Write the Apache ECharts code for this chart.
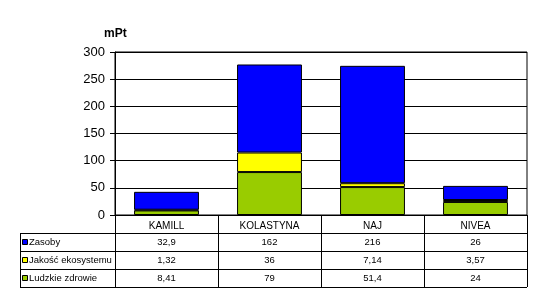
<!DOCTYPE html>
<html><head><meta charset="utf-8">
<script src="https://cdn.jsdelivr.net/npm/echarts@6/dist/echarts.min.js"></script>
<style>html,body{margin:0;padding:0;background:#fff}#c{width:550px;height:306px}</style>
</head><body><div id="c"></div>
<script>
const categories = ['KAMILL', 'KOLASTYNA', 'NAJ', 'NIVEA'];
const seriesNames = ['Zasoby', 'Jakość ekosystemu', 'Ludzkie zdrowie'];
const zasoby = [32.9, 162, 216, 26];
const jakosc = [1.32, 36, 7.14, 3.57];
const ludzkie = [8.41, 79, 51.4, 24];
const yTicks = [0, 50, 100, 150, 200, 250, 300];
const colors = ['#0000FF', '#FFFF00', '#99CC00'];
const tableValues = [zasoby, jakosc, ludzkie];

const FONT = 'Liberation Sans, Arial, sans-serif';
const chart = echarts.init(document.getElementById('c'), null, {renderer: 'canvas'});
const gridL = 115, gridR = 23, gridT = 52, gridB = 91;

function fmt(v) { return String(v).replace('.', ','); }

const barStyle = c => ({color: c, borderColor: '#000', borderWidth: 1});
chart.setOption({
  animation: false,
  backgroundColor: '#fff',
  textStyle: {fontFamily: FONT},
  grid: {left: gridL, right: gridR, top: gridT, bottom: gridB, show: true, borderColor: '#000', borderWidth: 1},
  title: {text: 'mPt', left: 99, top: 23, textStyle: {fontSize: 12, fontWeight: 'bold', color: '#000', fontFamily: FONT}},
  xAxis: {
    type: 'category', data: categories,
    axisLine: {lineStyle: {color: '#000'}},
    axisTick: {show: false},
    axisLabel: {color: '#000', fontSize: 10, margin: 6, fontFamily: FONT}
  },
  yAxis: {
    type: 'value', min: yTicks[0], max: yTicks[yTicks.length - 1], interval: 50,
    axisLine: {show: true, lineStyle: {color: '#000'}},
    axisTick: {show: true, length: 5, lineStyle: {color: '#000'}},
    axisLabel: {color: '#000', fontSize: 13, margin: 10, fontFamily: FONT},
    splitLine: {lineStyle: {color: '#000'}}
  },
  series: [
    {name: seriesNames[2], type: 'bar', stack: 's', data: ludzkie, itemStyle: barStyle(colors[2]), barCategoryGap: '37%'},
    {name: seriesNames[1], type: 'bar', stack: 's', data: jakosc, itemStyle: barStyle(colors[1])},
    {name: seriesNames[0], type: 'bar', stack: 's', data: zasoby, itemStyle: barStyle(colors[0])}
  ]
});

// Data table below the chart, aligned to the category axis
const zeroY = chart.convertToPixel({yAxisIndex: 0}, 0);
const c0 = chart.convertToPixel({xAxisIndex: 0}, categories[0]);
const c1 = chart.convertToPixel({xAxisIndex: 0}, categories[1]);
const bw = c1 - c0;
const headerH = 18, rowH = 18, tableLeft = 20;
const xs = categories.map((c, i) => chart.convertToPixel({xAxisIndex: 0}, c));
const bounds = [xs[0] - bw / 2].concat(xs.map(x => x + bw / 2));
const rightX = bounds[bounds.length - 1];
const tableBottom = zeroY + headerH + rowH * seriesNames.length;
const els = [];
const ls = {stroke: '#000', lineWidth: 1};
bounds.forEach(x => {
  const xx = Math.round(x) + 0.5;
  els.push({type: 'line', shape: {x1: xx, y1: zeroY, x2: xx, y2: tableBottom}, style: ls, silent: true});
});
els.push({type: 'line', shape: {x1: tableLeft + 0.5, y1: zeroY + headerH, x2: tableLeft + 0.5, y2: tableBottom}, style: ls});
for (let r = 0; r <= seriesNames.length; r++) {
  const y = Math.round(zeroY + headerH + r * rowH) + 0.5;
  els.push({type: 'line', shape: {x1: tableLeft, y1: y, x2: rightX, y2: y}, style: ls});
}
seriesNames.forEach((name, r) => {
  const cy = zeroY + headerH + r * rowH + rowH / 2;
  els.push({type: 'rect', shape: {x: tableLeft + 2.5, y: Math.round(cy - 3) + 0.5, width: 5, height: 5},
    style: {fill: colors[r], stroke: '#000', lineWidth: 1}});
  els.push({type: 'text', x: tableLeft + 9, y: cy,
    style: {text: name, fontSize: 9.5, fontFamily: FONT, fill: '#000', textVerticalAlign: 'middle', verticalAlign: 'middle'}});
  tableValues[r].forEach((v, i) => {
    els.push({type: 'text', x: xs[i], y: cy,
      style: {text: fmt(v), fontSize: 9.5, fontFamily: FONT, fill: '#000', align: 'center', textAlign: 'center', verticalAlign: 'middle', textVerticalAlign: 'middle'}});
  });
});
chart.setOption({graphic: {elements: els}});
</script></body></html>
